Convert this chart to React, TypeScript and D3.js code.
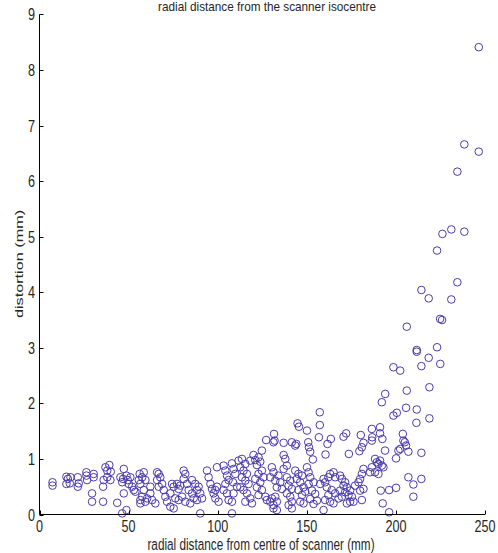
import React from "react";
import * as d3 from "d3";

const radialDistance: number[] = [
  7.3, 7.3, 15.1, 15.9, 15.1, 17.4, 17, 21.5, 22, 21.5, 26.3, 26.3, 26.7, 30.4, 30.4, 29.5, 29.5, 35.7,
  37, 38, 39.2, 40, 38, 39.8, 36, 35.7, 43.6, 45.4, 46.9, 46.4, 48.8, 47.3, 49.5, 51, 50.1, 47.3, 46.4, 48.8,
  52, 52.9, 53.8, 56.6, 56.2, 55.7,
  58.5, 57.6, 59.4, 56.6, 58.5, 57.6, 59.4, 56.6, 60.4, 62.2, 62.2, 63.2, 65, 66, 66.9, 67.8, 66, 68.8, 66.9,
  69.7, 70.6, 71.6, 73.4, 75.3, 73.4, 74.4, 75.3, 77.2, 78.1, 79, 76.2, 78.1, 80, 80.9, 81.8, 80.9,
  82.8, 83.7, 85.6, 86.5, 81.8, 84.6, 85.6, 87.4, 88.4, 89.3, 90.2, 91.2, 88.4, 90.2,
  94, 94.9, 95.9, 96.8, 97.7, 98.7, 99.6, 98.7, 100.5, 99.6, 103.3, 104.3, 105.2, 106.1, 104.3, 103.3, 105.2, 106.1,
  108, 108.9, 109.9, 108.6, 110.8, 108.9, 108, 108, 111.7,
  113.6, 115.5, 112.7, 114.5, 116.4, 113.6, 115.5, 117.3, 112.7, 114.5, 116.4, 118.3, 115.5, 119.2,
  120.1, 121.1, 122, 123.9, 124.8, 122.9, 121.1, 123.9, 125.7, 122, 124.8, 122.9,
  126.7, 127.6, 129.5, 130.4, 131.3, 132.3, 133.2, 131.3, 133.2, 130.4, 131.3, 129.5, 132.3, 134.1, 135.1, 133.2, 136,
  137, 137.9, 138.8, 137, 138.8, 140.7, 139.8, 141.6, 138.8, 140.7, 141.6, 139.8, 141.6,
  143.5, 145.3, 144.4, 147.3, 146.3, 148.2, 145.3, 147.3, 149.1, 146.3, 148.2,
  150.1, 151, 151.9, 153.8, 151, 152.9, 154.7, 151.9, 153.8, 155.7,
  157.5, 159.4, 160.3, 161.2, 162.1, 163.1, 165, 165.9, 164, 165.9, 162.1, 160.3, 163.1, 159.4, 165, 167.8,
  143.5, 131.3, 118.3, 122.9, 124.8,
  192.1, 205.7, 211.7, 200.5, 198.6, 211.5, 218.8, 157.3, 157.3, 144.8, 145.6, 150.1,
  131.6, 131.9, 127.2, 137, 141.6, 144.1, 156.8, 161.6, 163.5, 150.8, 151.2, 151.9, 153.4,
  160.5, 170.6, 172.1, 173.6, 180.3, 181.8, 179.5, 186.5, 191.1, 191.1, 192.4, 186.7, 193.9,
  203.9, 204.2, 205, 205.7, 201.4, 200.1, 207, 214.3,
  207, 209.8, 214.3, 209.8, 191.5, 196.2, 200.1, 192.6, 196.2, 180.9, 186.5, 202.4,
  188.3, 189.3, 190.2, 191.1, 192.1, 193, 186.5, 188.3, 190.2, 185.5, 181.8, 180.9, 179.9, 179,
  168.7, 169.7, 171.5, 170.6, 172.5, 174.3, 171.5, 173.4, 175.3, 174.3, 172.5, 176.2, 168.7, 169.7, 177.1, 179.9, 181.8, 180.9,
  226.1, 231.1, 238.4, 223.1, 234.5, 214.3, 218.4, 231.1, 224.8, 225.9, 206.1, 211.7, 211.7, 223.1, 218.4,
  198.6, 202.4, 214.3, 224.9, 206.1, 218.8, 194.0,
  246.5, 238.4, 246.5, 234.5,
];

const distortion: number[] = [
  0.58, 0.52, 0.68, 0.64, 0.55, 0.67, 0.56, 0.67, 0.56, 0.5, 0.76, 0.7, 0.62, 0.73, 0.67, 0.38, 0.23, 0.23,
  0.85, 0.79, 0.89, 0.77, 0.67, 0.62, 0.62, 0.5, 0.21, 0.67, 0.64, 0.58, 0.7, 0.82, 0.62, 0.67, 0.55, 0.38, 0.02, 0.08,
  0.5, 0.44, 0.41, 0.26, 0.73, 0.62,
  0.76, 0.67, 0.62, 0.55, 0.44, 0.32, 0.23, 0.2, 0.29, 0.5, 0.38, 0.26, 0.2, 0.76, 0.73, 0.67, 0.62, 0.55, 0.5,
  0.44, 0.32, 0.23, 0.14, 0.11, 0.38, 0.55, 0.5, 0.55, 0.46, 0.52, 0.29, 0.26, 0.32, 0.79, 0.73, 0.64,
  0.55, 0.44, 0.38, 0.29, 0.23, 0.2, 0.62, 0.55, 0.44, 0.5, 0.38, 0.29, 0.26, 0.02,
  0.79, 0.67, 0.55, 0.46, 0.38, 0.44, 0.5, 0.29, 0.23, 0.85, 0.88, 0.79, 0.7, 0.62, 0.55, 0.44, 0.38, 0.26,
  0.92, 0.82, 0.73, 0.58, 0.5, 0.38, 0.23, 0.02, 0.97,
  1.0, 0.91, 0.85, 0.79, 0.73, 0.67, 0.61, 0.55, 0.49, 0.44, 0.38, 0.29, 0.23, 0.2,
  1.07, 0.98, 0.89, 0.95, 0.79, 0.73, 0.64, 0.58, 0.67, 0.49, 0.44, 0.35,
  0.32, 0.26, 0.23, 0.29, 0.17, 0.32, 0.23, 0.11, 0.08, 0.85, 0.76, 0.67, 0.61, 0.7, 0.58, 0.49, 0.46,
  1.07, 1.0, 0.88, 0.82, 0.67, 0.61, 0.52, 0.46, 0.38, 0.32, 0.23, 0.17, 0.11,
  0.79, 0.73, 0.64, 0.7, 0.58, 0.49, 0.44, 0.35, 0.41, 0.23, 0.2,
  0.85, 0.76, 0.67, 0.58, 0.55, 0.43, 0.37, 0.28, 0.19, 0.25,
  0.55, 0.64, 0.58, 0.49, 0.67, 0.73, 0.76, 0.67, 0.44, 0.38, 0.35, 0.26, 0.23, 0.08, 0.2, 0.29,
  1.24, 1.3, 0.97, 1.03, 1.15,
  2.02, 1.92, 1.89, 1.83, 1.78, 1.65, 1.73, 1.84, 1.61, 1.64, 1.58, 1.51,
  1.45, 1.33, 1.34, 1.29, 1.3, 1.27, 1.39, 1.27, 1.36, 1.3, 1.21, 1.13, 0.99,
  1.08, 1.4, 1.46, 1.09, 1.43, 1.29, 1.14, 1.54, 1.57, 1.46, 1.36, 1.39, 1.15,
  1.45, 1.33, 1.3, 1.24, 1.15, 1.01, 1.13, 1.11,
  0.67, 0.54, 0.64, 0.32, 0.43, 0.44, 0.48, 0.2, 0.04, 1.21, 1.33, 1.18,
  1.0, 0.94, 0.91, 0.97, 0.88, 0.85, 0.85, 0.76, 0.73, 0.76, 0.82, 0.73, 0.64, 0.58,
  0.7, 0.64, 0.58, 0.52, 0.49, 0.43, 0.4, 0.35, 0.32, 0.23, 0.2, 0.23, 0.43, 0.32, 0.52, 0.43, 0.46, 0.26,
  5.05, 5.13, 5.09, 4.75, 4.18, 4.04, 3.89, 3.87, 3.52, 3.5, 3.38, 2.96, 2.93, 3.01, 2.82,
  2.65, 2.59, 2.67, 2.71, 2.23, 2.29, 2.17,
  8.41, 6.66, 6.53, 6.17,
];

const xTicks: number[] = [0, 50, 100, 150, 200, 250];
const yTicks: number[] = [0, 1, 2, 3, 4, 5, 6, 7, 8, 9];

const titleText = "radial distance from the scanner isocentre";
const xLabelText = "radial distance from centre of scanner (mm)";
const yLabelText = "distortion (mm)";

export default function App() {
  const W = 498;
  const H = 553;
  const x = d3.scaleLinear().domain([0, 250]).range([39.5, 485]);
  const y = d3.scaleLinear().domain([0, 9]).range([514.5, 14.4]);
  const font = "'Liberation Sans', Arial, Helvetica, sans-serif";
  const sx = 0.84;
  const sy = 1.16;
  const textColor = "#262626";
  const markerColor = "#4b3aad";

  return (
    <svg
      width={W}
      height={H}
      viewBox={`0 0 ${W} ${H}`}
      style={{ position: "absolute", left: 0, top: 0, display: "block", background: "#fff" }}
    >
      <rect x={0} y={0} width={W} height={H} fill="#fff" />
      <g fill="none" stroke={markerColor} strokeWidth={1}>
        {radialDistance.map((d, i) => (
          <circle key={i} cx={x(d)} cy={y(distortion[i])} r={3.8} />
        ))}
      </g>
      <g stroke="#000" strokeWidth={1} fill="none">
        <line x1={x(0)} x2={x(250)} y1={y(0)} y2={y(0)} />
        <line x1={x(0)} x2={x(0)} y1={y(0)} y2={y(9)} />
        {xTicks.map((t) => (
          <line key={"xt" + t} x1={Math.round(x(t)) + 0.5} x2={Math.round(x(t)) + 0.5} y1={y(0)} y2={y(0) - 4} />
        ))}
        {yTicks.map((t) => (
          <line key={"yt" + t} x1={x(0)} x2={x(0) + 4} y1={Math.round(y(t)) + 0.5} y2={Math.round(y(t)) + 0.5} />
        ))}
      </g>
      <g fill={textColor} fontFamily={font} fontSize={15}>
        {xTicks.map((t) => (
          <text
            key={"xl" + t}
            textAnchor="middle"
            transform={`translate(${x(t)},${531.5}) scale(${sx},${sy})`}
          >
            {String(t)}
          </text>
        ))}
        {yTicks.map((t) => (
          <text
            key={"yl" + t}
            textAnchor="end"
            transform={`translate(${35},${y(t) + 6}) scale(${sx},${sy})`}
          >
            {String(t)}
          </text>
        ))}
      </g>
      <text
        fill={textColor}
        fontFamily={font}
        fontSize={13.5}
        textAnchor="middle"
        transform={`translate(${267},${10.5}) scale(${0.87},${1.0})`}
      >
        {titleText}
      </text>
      <text
        fill={textColor}
        fontFamily={font}
        fontSize={14}
        textAnchor="middle"
        transform={`translate(${261},${550}) scale(${sx},${sy})`}
      >
        {xLabelText}
      </text>
      <text
        fill={textColor}
        fontFamily={font}
        fontSize={14}
        textAnchor="middle"
        transform={`translate(${22.5},${264}) rotate(-90) scale(${sy},${sx})`}
      >
        {yLabelText}
      </text>
    </svg>
  );
}
